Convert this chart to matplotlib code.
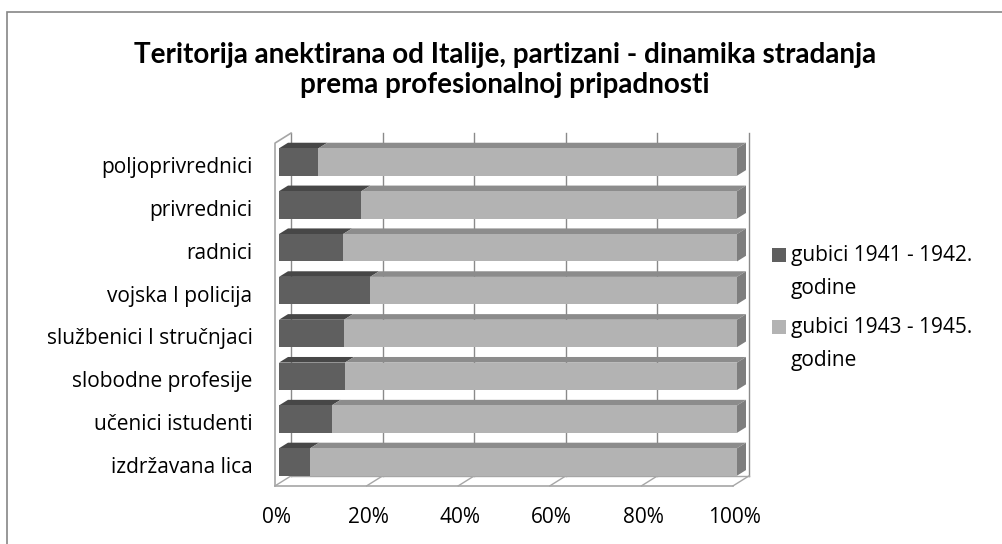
import numpy as np
import matplotlib
matplotlib.use("Agg")
import matplotlib.pyplot as plt
from matplotlib.patches import Polygon, Rectangle
from matplotlib.transforms import ScaledTranslation

# data (shares in %)
categories = ["poljoprivrednici", "privrednici", "radnici", "vojska I policija",
              "službenici I stručnjaci", "slobodne profesije", "učenici istudenti",
              "izdržavana lica"]
losses_1941_42 = [8.6, 18.0, 14.0, 19.9, 14.2, 14.4, 11.5, 6.8]
losses_1943_45 = [100 - v for v in losses_1941_42]
series_names = ["gubici 1941 - 1942.\ngodine", "gubici 1943 - 1945.\ngodine"]
xticks = [0, 20, 40, 60, 80, 100]
title = "Teritorija anektirana od Italije, partizani - dinamika stradanja\nprema profesionalnoj pripadnosti"

plt.rcParams["font.family"] = ["Open Sans", "DejaVu Sans"]
TITLE_FONT = ["Lato", "DejaVu Sans"]
FS = 15

W, H = 1003, 544
fig = plt.figure(figsize=(W / 100, H / 100), dpi=100)

# pixel scale of the plotting plane
px_per_pct = 458 / 100
px_per_row = 300 / 7

def pct(px):
    return px / px_per_pct

def rows(px):
    return px / px_per_row

ax = fig.add_axes([279 / W, (H - 483.4) / H, 458 / W, (483.4 - 140.6) / H])
ax.set_xlim(0, 100)
ax.set_ylim(len(categories) - 0.5, -0.5)
for s in ax.spines.values():
    s.set_visible(False)

# depth offsets (front of box, back of box, bar depth)
fdx, fdy = pct(-4), rows(2.5)
bdx, bdy = pct(12), rows(-7.5)
ddx, ddy = pct(9), rows(-5.6)

wall_col = "#a6a6a6"
grid_col = "#8a8a8a"
ytop, ybot = -0.5, len(categories) - 0.5

# back wall gridlines
for t in xticks:
    ax.plot([t + bdx, t + bdx], [ytop + bdy, ybot + bdy], color=grid_col, lw=1.0,
            zorder=1, clip_on=False)
# floor
for t in xticks:
    ax.plot([t + fdx, t + bdx], [ybot + fdy, ybot + bdy], color=wall_col, lw=1.0,
            zorder=1, clip_on=False)
ax.plot([0 + fdx, 100 + fdx], [ybot + fdy, ybot + fdy], color=wall_col, lw=1.2,
        zorder=1, clip_on=False)
ax.plot([0 + bdx, 100 + bdx], [ybot + bdy, ybot + bdy], color=wall_col, lw=1.0,
        zorder=1, clip_on=False)
# left wall
ax.plot([fdx, fdx, bdx], [ybot + fdy, ytop + fdy, ytop + bdy], color=wall_col, lw=1.2,
        zorder=1, clip_on=False)

# bars
h = 27.4 / px_per_row
dark = ("#5f5f5f", "#474747")
light = ("#b3b3b3", "#8c8c8c", "#7e7e7e")
for i in range(len(categories)):
    top, bot = i - h / 2, i + h / 2
    segs = [(0, losses_1941_42[i], dark), (losses_1941_42[i], 100, light)]
    for a, b, cols in segs:
        ax.add_patch(Polygon([(a, top), (b, top), (b + ddx, top + ddy), (a + ddx, top + ddy)],
                             closed=True, fc=cols[1], ec="none", zorder=3, clip_on=False))
        ax.add_patch(Polygon([(a, top), (b, top), (b, bot), (a, bot)],
                             closed=True, fc=cols[0], ec="none", zorder=4, clip_on=False))
    ax.add_patch(Polygon([(100, top), (100 + ddx, top + ddy), (100 + ddx, bot + ddy), (100, bot)],
                         closed=True, fc=light[2], ec="none", zorder=3, clip_on=False))

# axes labels
ax.set_xticks(xticks, [f"{t}%" for t in xticks])
ax.set_yticks(range(len(categories)), categories)
ax.tick_params(axis="both", length=0, labelsize=FS, colors="black")
ax.tick_params(axis="x", pad=17)
ax.tick_params(axis="y", pad=19)
for lab in ax.get_xticklabels():
    lab.set_transform(lab.get_transform() + ScaledTranslation(-0.02, 0, fig.dpi_scale_trans))
for lab in ax.get_yticklabels():
    lab.set_transform(lab.get_transform() + ScaledTranslation(0, -0.03, fig.dpi_scale_trans))

# title
fig.text(505 / W, 1 - 70 / H, title, ha="center", va="center", fontsize=20,
         fontweight="bold", linespacing=1.22, family=TITLE_FONT)

# legend
leg_base = [261, 333]
for name, col, y in zip(series_names, [dark[0], light[0]], leg_base):
    fig.add_artist(Rectangle((772 / W, 1 - (y + 1) / H), 14 / W, 14 / H,
                             transform=fig.transFigure, fc=col, ec="none"))
    fig.text(791 / W, 1 - (y - 16) / H, name, ha="left", va="top", fontsize=FS,
             linespacing=1.72)

# chart border
fig.add_artist(Rectangle((7 / W, -0.1), 1.2, 1 - 12 / H + 0.1, transform=fig.transFigure,
                         fc="none", ec="#868686", lw=1.2))

fig.savefig("out.png", dpi=100)
